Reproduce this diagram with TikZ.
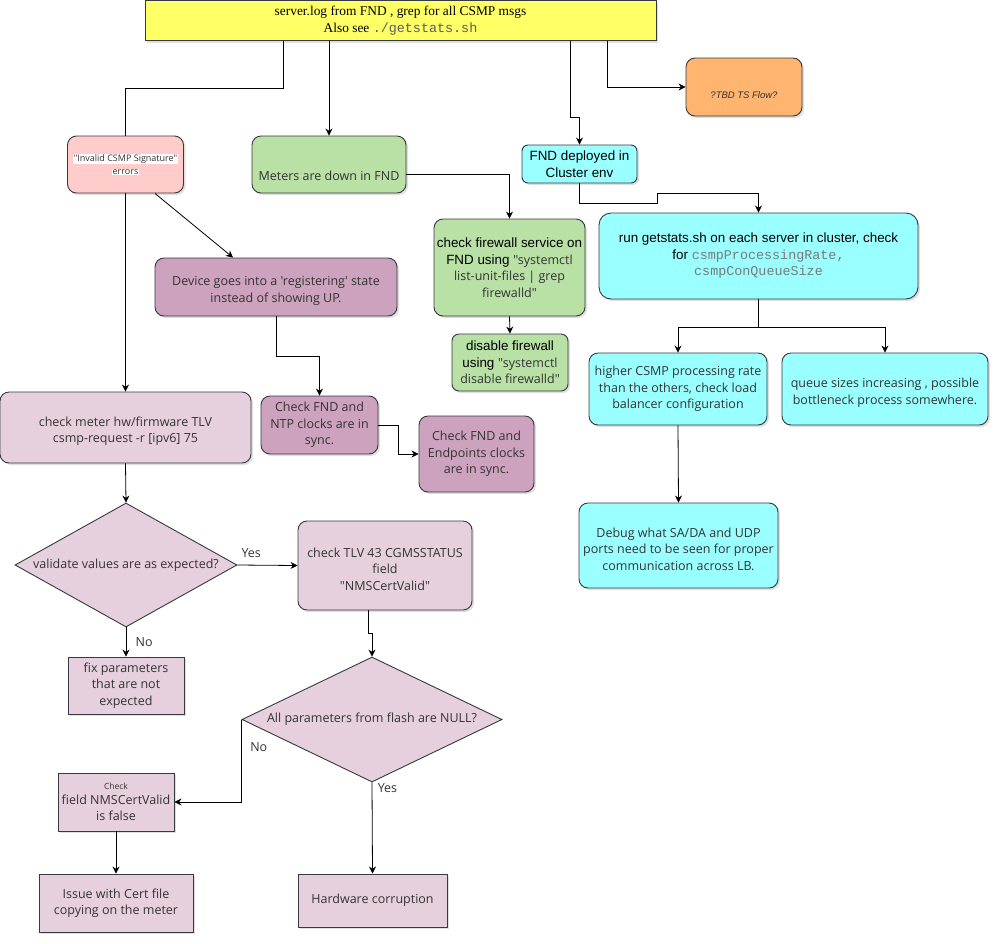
\documentclass[tikz,border=0pt]{standalone}
\usepackage{fontspec}
\newfontfamily\uifont{Open Sans}
\newfontfamily\arialfont{Liberation Sans}
\newfontfamily\timesfont{Liberation Serif}
\setmonofont{Liberation Mono}
\usepackage{xcolor}
\usepackage{tikz}
\usetikzlibrary{arrows.meta, shapes.geometric, shadows}

\definecolor{logyellow}{HTML}{FFFF66}
\definecolor{errpink}{HTML}{FFCCCC}
\definecolor{fndgreen}{HTML}{B9E0A5}
\definecolor{clustercyan}{HTML}{99FFFF}
\definecolor{tbdorange}{HTML}{FFB570}
\definecolor{devmauve}{HTML}{CDA2BE}
\definecolor{metermauve}{HTML}{E6D0DE}
\definecolor{textgrey}{HTML}{333333}
\definecolor{monogrey}{HTML}{7A7A7A}
\definecolor{edgegrey}{HTML}{36393D}

\setlength{\fboxsep}{0.5pt}
\newcommand{\segtext}[1]{{\uifont\fontsize{12.5}{16.5}\selectfont\color{textgrey}#1}}

\tikzset{%
	box/.style = {
		rectangle, draw=edgegrey, line width=0.9pt,
		inner sep=1pt, align=center,
		drop shadow={shadow xshift=2pt, shadow yshift=-2pt, opacity=0.25}
	},
	rbox/.style = {
		box, rounded corners=9pt
	},
	decision/.style = {
		diamond, draw=edgegrey, line width=0.9pt,
		inner sep=0pt, align=center, fill=metermauve
	},
	arial/.style = {
		font=\arialfont\fontsize{13.4}{16.5}\selectfont, text=black
	},
	flow/.style = {
		-{Stealth[length=7pt, width=7pt]}, line width=0.8pt
	}
}

\begin{document}
\begin{tikzpicture}[x=1pt, y=-1pt, every node/.style={font=\uifont\fontsize{12.5}{16.5}\selectfont, text=textgrey}]
    \useasboundingbox (0,0) rectangle (999,943);
    \fill[white] (0,0) rectangle (999,943);

    % nodes, placed at pixel positions of the sketch
    \node (top)        [box, fill=logyellow, minimum width=511pt, minimum height=40pt, text=black,
                        font=\timesfont\fontsize{13.4}{17}\selectfont]               at (400.5,20.5)  {server.log from FND , grep for all CSMP msgs\\Also see {\ttfamily\color{textgrey!80}./getstats.sh}};
    \node (invalid)    [rbox, fill=errpink, minimum width=116pt, minimum height=57pt,
                        font=\uifont\fontsize{9}{13}\selectfont]                     at (125.5,164.5) {\colorbox{white}{"Invalid CSMP Signature"}\\\colorbox{white}{errors}};
    \node (meters)     [rbox, fill=fndgreen, minimum width=154pt, minimum height=57pt]   at (329,164.5)   {\mbox{}\\\mbox{}\\Meters are down in FND};
    \node (fnd)        [rbox, fill=clustercyan, minimum width=115pt, minimum height=38pt,
                        rounded corners=6pt, arial]                                  at (579.5,164)   {FND deployed in\\Cluster env};
    \node (tbd)        [rbox, fill=tbdorange, minimum width=116pt, minimum height=58pt,
                        font=\arialfont\itshape\fontsize{9.5}{12}\selectfont]        at (744,87)      {\mbox{}\\[12pt]?TBD TS Flow?};
    \node (firewall)   [rbox, fill=fndgreen, minimum width=151pt, minimum height=97pt, arial] at (509.5,267.5) {check firewall service on\\FND using \segtext{"systemctl}\\\segtext{list-unit-files | grep}\\\segtext{firewalld"}};
    \node (disable)    [rbox, fill=fndgreen, minimum width=116pt, minimum height=57pt,
                        rounded corners=7pt, arial]                                  at (510,362.5)   {disable firewall\\using \segtext{"systemctl}\\\segtext{disable firewalld"}};
    \node (getstats)   [rbox, fill=clustercyan, minimum width=319pt, minimum height=86pt,
                        rounded corners=12pt, arial]                                 at (758.5,256)   {run getstats.sh on each server in cluster, check\\for {\ttfamily\color{monogrey}csmpProcessingRate,}\\{\ttfamily\color{monogrey}csmpConQueueSize}};
    \node (higher)     [rbox, fill=clustercyan, minimum width=178pt, minimum height=72pt] at (678,389)     {higher CSMP processing rate\\than the others, check load\\balancer configuration};
    \node (queue)      [rbox, fill=clustercyan, minimum width=206pt, minimum height=72pt] at (885,389)     {\mbox{}\\queue sizes increasing , possible\\bottleneck process somewhere.};
    \node (debug)      [rbox, fill=clustercyan, minimum width=199pt, minimum height=85pt] at (678.5,545.5) {\mbox{}\\Debug what SA/DA and UDP\\ports need to be seen for proper\\communication across LB.};
    \node (device)     [rbox, fill=devmauve, minimum width=242pt, minimum height=58pt]    at (276,287)     {\mbox{}\\Device goes into a 'registering' state\\instead of showing UP.};
    \node (meter)      [rbox, fill=metermauve, minimum width=251pt, minimum height=71pt]  at (125.5,427.5) {\mbox{}\\check meter hw/firmware TLV\\csmp-request -r [ipv6] 75};
    \node (ntp)        [rbox, fill=devmauve, minimum width=117pt, minimum height=58pt]    at (319.5,425)   {Check FND and\\NTP clocks are in\\sync.};
    \node (endpoints)  [rbox, fill=devmauve, minimum width=115pt, minimum height=76pt]    at (476.5,454)   {Check FND and\\Endpoints clocks\\are in sync.};
    \node (dec1)       [decision, minimum width=222pt, minimum height=124pt, aspect=1.8]  at (126,565)     {validate values are as expected?};
    \node (tlv)        [rbox, fill=metermauve, minimum width=174pt, minimum height=89pt]  at (385,565.5)   {\mbox{}\\check TLV 43 CGMSSTATUS\\field\\"NMSCertValid"};
    \node (fix)        [box, fill=metermauve, minimum width=116pt, minimum height=57pt]   at (126,685.5)   {fix parameters\\that are not\\expected};
    \node (dec2)       [decision, minimum width=260pt, minimum height=125pt, aspect=2.1]  at (372,719.5)   {All parameters from flash are NULL?};
    \node (certcheck)  [box, fill=metermauve, minimum width=116pt, minimum height=58pt]   at (116,802)     {{\fontsize{8.5}{11}\selectfont Check}\\[-2pt]field NMSCertValid\\is false};
    \node (issue)      [box, fill=metermauve, minimum width=154pt, minimum height=58pt]   at (116,903)     {Issue with Cert file\\copying on the meter};
    \node (hardware)   [box, fill=metermauve, minimum width=149pt, minimum height=53pt]   at (372.5,900.5) {Hardware corruption};

    % connectors
    \draw[line width=0.8pt] ([xshift=-117.5pt]top.south) -- ++(0,47) -| (invalid.north);
    \draw[flow]        (meters.north |- top.south) -- (meters.north);
    \draw[flow]        ([xshift=169.5pt]top.south) -- ++(0,76.5) -| (fnd.north);
    \draw[flow]        ([xshift=206.5pt]top.south) |- (tbd.west);
    \draw[flow]        (invalid.south) -- (meter.north);
    \draw[flow]        ([xshift=29.5pt]invalid.south) -- ([xshift=-43pt]device.north);
    \draw[flow]        ([yshift=-9.5pt]meters.east) -| (firewall.north);
    \draw[flow]        (firewall.south) -- (disable.north);
    \draw[flow]        (fnd.south) -- ++(0,20) -| ++(78,-10) -| (getstats.north);
    \draw[flow]        (getstats.south) -- ++(0,28) -| (higher.north);
    \draw[flow]        (getstats.south) -- ++(0,28) -| (queue.north);
    \draw[flow]        (higher.south) -- (debug.north);
    \draw[flow]        (device.south) -- ++(0,40) -| (ntp.north);
    \draw[flow]        (ntp.east) -- ++(20,0) |- (endpoints.west);
    \draw[flow]        (meter.south) -- (dec1.north);
    \draw[flow]        (dec1.east) -- node[pos=0.23, above=4pt] {Yes} (tlv.west);
    \draw[flow]        (dec1.south) -- node[midway, right=6pt] {No} (fix.north);
    \draw[flow]        ([xshift=-17pt]tlv.south) -- ++(0,23) -| (dec2.north);
    \draw[flow]        (dec2.west) |- node[pos=0.17, right=5pt] {No} (certcheck.east);
    \draw[flow]        (dec2.south) -- node[pos=0.06, right=2pt] {Yes} (hardware.north);
    \draw[flow]        (certcheck.south) -- (issue.north);

\end{tikzpicture}
\end{document}
